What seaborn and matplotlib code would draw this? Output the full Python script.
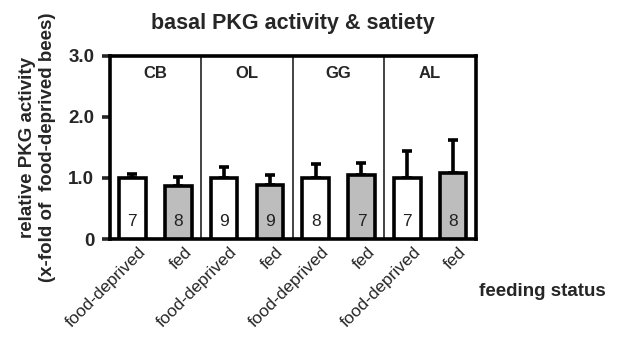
import matplotlib
matplotlib.use("Agg")
import matplotlib.pyplot as plt
import matplotlib.transforms as mtransforms
import seaborn as sns
import pandas as pd
import numpy as np

regions = ["CB", "CB", "OL", "OL", "GG", "GG", "AL", "AL"]
status = ["food-deprived", "fed"] * 4
means = [1.00, 0.86, 1.00, 0.88, 1.00, 1.05, 1.00, 1.08]
err_up = [0.06, 0.16, 0.18, 0.16, 0.23, 0.20, 0.44, 0.54]
n_bees = [7, 8, 9, 9, 8, 7, 7, 8]
group_names = ["CB", "OL", "GG", "AL"]

sns.set_theme(style="white")
plt.rcParams['font.family'] = ['Liberation Sans', 'DejaVu Sans']

df = pd.DataFrame({
    "slot": [f"{r}-{s}" for r, s in zip(regions, status)],
    "status": status,
    "value": means,
})

fig = plt.figure(figsize=(6.19, 3.37), dpi=100)
ax = fig.add_axes([0.1769, 0.2908, 0.5921, 0.5445])

sns.barplot(data=df, x="slot", y="value", hue="status",
            palette={"food-deprived": "white", "fed": "#bdbdbd"},
            dodge=False, width=0.58, edgecolor="black", linewidth=2.6,
            errorbar=None, legend=False, ax=ax, zorder=3)

xpos = np.arange(len(means))
ax.errorbar(xpos, means, yerr=[np.zeros(len(means)), err_up], fmt="none",
            ecolor="black", elinewidth=2.6, capsize=3.5, capthick=2.6, zorder=2)

for x, n in zip(xpos, n_bees):
    ax.text(x, 0.29, str(n), ha="center", va="center", fontsize=12.5, color="#222222", zorder=5)

for i, g in enumerate(group_names):
    ax.text(2 * i + 0.5, 2.70, g, ha="center", va="center", fontsize=12, fontweight="bold")
    if i > 0:
        ax.axvline(2 * i - 0.5, color="#222222", lw=1.2, zorder=1)

ax.set_xlim(-0.5, 7.5)
ax.set_ylim(0, 3.0)
ax.set_yticks([0, 1, 2, 3])
ax.set_yticklabels(["0", "1.0", "2.0", "3.0"], fontsize=13.5, fontweight="bold")
ax.set_xticks(xpos)
ax.set_xticklabels(status, rotation=45, ha="right", va="center",
                   rotation_mode="anchor", fontsize=12.5)
ax.tick_params(axis="x", length=0, pad=0)
offset = mtransforms.ScaledTranslation(11 / 100, -11 / 100, fig.dpi_scale_trans)
for lab in ax.get_xticklabels():
    lab.set_transform(lab.get_transform() + offset)
ax.tick_params(axis="y", length=6, width=2.6, pad=5, direction="out", left=True)
for sp in ax.spines.values():
    sp.set_linewidth(2.6)
    sp.set_color("black")
ax.set_xlabel("")
ax.set_ylabel("relative PKG activity\n(x-fold of  food-deprived bees)",
              fontsize=13.5, fontweight="bold", linespacing=1.2, labelpad=9)
ax.set_title("basal PKG activity & satiety", fontsize=15.5, fontweight="bold", pad=19)
fig.text(0.876, 0.136, "feeding status", ha="center", va="center", fontsize=13.5, fontweight="bold")

fig.savefig("out.png", dpi=100)
